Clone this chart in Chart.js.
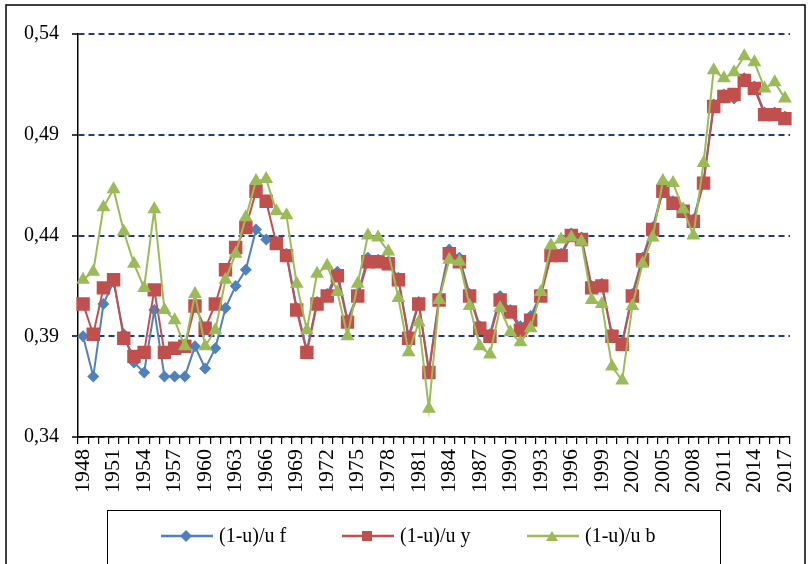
<!DOCTYPE html>
<html>
<head>
<meta charset="utf-8">
<script src="https://cdn.jsdelivr.net/npm/chart.js@4.4.1/dist/chart.umd.min.js"></script>
<style>
  body { margin: 0; background: #fff; }
  #wrap { position: relative; width: 810px; height: 564px; }
  #legend {
    position: absolute; left: 107px; top: 510px; width: 614px; height: 60px;
    border: 1.5px solid #000; box-sizing: border-box;
    font-family: "Liberation Serif", "Times New Roman", serif; font-size: 20px; color: #000;
  }
  .item { position: absolute; top: 13px; display: flex; align-items: center; white-space: nowrap; }
  .item svg { margin-right: 6px; }
</style>
</head>
<body>
<div id="wrap">
  <canvas id="chart" width="810" height="564"></canvas>
  <div id="legend"></div>
</div>
<script>
(function () {
    const years = Array.from({ length: 70 }, (_, i) => String(1948 + i));
    const yTicks = [0.34, 0.39, 0.44, 0.49, 0.54];

    const seriesF = [
        0.390, 0.370, 0.406, 0.417, 0.391, 0.377, 0.372, 0.403, 0.370, 0.370,
        0.370, 0.385, 0.374, 0.384, 0.404, 0.415, 0.423, 0.443, 0.438, 0.437,
        0.431, 0.404, 0.383, 0.407, 0.411, 0.422, 0.398, 0.411, 0.429, 0.428,
        0.427, 0.419, 0.390, 0.407, 0.373, 0.409, 0.433, 0.429, 0.411, 0.395,
        0.391, 0.410, 0.403, 0.395, 0.400, 0.411, 0.431, 0.431, 0.441, 0.439,
        0.415, 0.416, 0.391, 0.387, 0.411, 0.429, 0.444, 0.463, 0.457, 0.453,
        0.448, 0.467, 0.505, 0.510, 0.508, 0.518, 0.514, 0.501, 0.501, 0.499
    ];
    const seriesY = [
        0.406, 0.391, 0.414, 0.418, 0.389, 0.380, 0.382, 0.413, 0.382, 0.384,
        0.385, 0.405, 0.394, 0.406, 0.423, 0.434, 0.444, 0.462, 0.457, 0.436,
        0.430, 0.403, 0.382, 0.406, 0.410, 0.420, 0.397, 0.410, 0.427, 0.427,
        0.426, 0.418, 0.389, 0.406, 0.372, 0.408, 0.431, 0.427, 0.410, 0.394,
        0.390, 0.408, 0.402, 0.393, 0.398, 0.410, 0.430, 0.430, 0.440, 0.438,
        0.414, 0.415, 0.390, 0.386, 0.410, 0.428, 0.443, 0.462, 0.456, 0.452,
        0.447, 0.466, 0.504, 0.509, 0.510, 0.517, 0.513, 0.500, 0.500, 0.498
    ];
    const seriesB = [
        0.418, 0.422, 0.454, 0.463, 0.442, 0.426, 0.414, 0.453, 0.403, 0.398,
        0.385, 0.411, 0.385, 0.393, 0.418, 0.431, 0.449, 0.467, 0.468, 0.452,
        0.450, 0.416, 0.393, 0.421, 0.425, 0.412, 0.390, 0.416, 0.440, 0.439,
        0.432, 0.409, 0.382, 0.397, 0.354, 0.408, 0.428, 0.427, 0.405, 0.385,
        0.381, 0.404, 0.392, 0.387, 0.394, 0.412, 0.435, 0.438, 0.439, 0.437,
        0.408, 0.406, 0.375, 0.368, 0.405, 0.426, 0.439, 0.467, 0.466, 0.453,
        0.440, 0.476, 0.522, 0.518, 0.521, 0.529, 0.526, 0.513, 0.516, 0.508
    ];

    const BLUE = '#4F81BD', RED = '#C0504D', GREEN = '#9BBB59';
    const FONT = "'Liberation Serif', 'Times New Roman', serif";

    // Excel style outer frame
    const frame = {
        id: 'frame',
        afterDraw(chart) {
            const ctx = chart.ctx;
            ctx.save();
            ctx.strokeStyle = '#000';
            ctx.lineWidth = 1.5;
            ctx.strokeRect(6, 5, 799, 600);
            ctx.restore();
        }
    };

    const data = {
        labels: years,
        datasets: [
            {
                label: '(1-u)/u f', data: seriesF, order: 2,
                borderColor: BLUE, backgroundColor: BLUE, borderWidth: 2,
                pointStyle: 'rectRot', pointRadius: 6, pointBorderWidth: 0
            },
            {
                label: '(1-u)/u y', data: seriesY, order: 1,
                borderColor: RED, backgroundColor: RED, borderWidth: 2,
                pointStyle: 'rect', pointRadius: 9.5, pointBorderWidth: 0
            },
            {
                label: '(1-u)/u b', data: seriesB, order: 0,
                borderColor: GREEN, backgroundColor: GREEN, borderWidth: 2,
                pointStyle: 'triangle', pointRadius: 8, pointBorderWidth: 0
            }
        ]
    };

    new Chart(document.getElementById('chart'), {
        type: 'line',
        data: data,
        plugins: [frame],
        options: {
            responsive: false,
            animation: false,
            layout: { padding: { top: 34, right: 20, left: 0, bottom: 0 } },
            plugins: { legend: { display: false }, tooltip: { enabled: false } },
            elements: { line: { tension: 0 } },
            scales: {
                x: {
                    offset: true,
                    grid: { offset: true, drawOnChartArea: false, color: '#000', tickLength: 7, lineWidth: 1.2 },
                    border: { color: '#000', width: 1.5 },
                    ticks: {
                        autoSkip: false, maxRotation: 90, minRotation: 90, padding: 5,
                        color: '#000', font: { family: FONT, size: 22 },
                        callback: function (v, i) { return i % 3 === 0 ? years[i] : ''; }
                    },
                    afterFit: function (scale) {
                        scale.height = 127;
                        scale.paddingLeft = 0;
                        scale.paddingRight = 0;
                    }
                },
                y: {
                    min: 0.34, max: 0.54,
                    afterBuildTicks: function (scale) { scale.ticks = yTicks.map(v => ({ value: v })); },
                    grid: {
                        color: '#1F3F7A', lineWidth: 2,
                        tickColor: '#000', tickBorderDash: [], tickLength: 6, tickWidth: 1.5
                    },
                    border: { color: '#000', width: 1.5, dash: [6, 4] },
                    ticks: {
                        padding: 13, color: '#000', font: { family: FONT, size: 20 },
                        callback: function (v) { return v.toFixed(2).replace('.', ','); }
                    },
                    afterFit: function (scale) { scale.width = 78; }
                }
            }
        }
    });

    // legend box like the Excel one
    const legendItems = [
        { text: '(1-u)/u f', color: BLUE, marker: 'diamond', x: 53 },
        { text: '(1-u)/u y', color: RED, marker: 'square', x: 234 },
        { text: '(1-u)/u b', color: GREEN, marker: 'triangle', x: 419 }
    ];
    const legend = document.getElementById('legend');
    legendItems.forEach(function (it) {
        let mark = '';
        if (it.marker === 'diamond') mark = '<polygon points="25,2 31,8 25,14 19,8" fill="' + it.color + '"/>';
        if (it.marker === 'square') mark = '<rect x="20" y="3" width="10" height="10" fill="' + it.color + '"/>';
        if (it.marker === 'triangle') mark = '<polygon points="25,3 31,13 19,13" fill="' + it.color + '"/>';
        const div = document.createElement('div');
        div.className = 'item';
        div.style.left = it.x + 'px';
        div.innerHTML = '<svg width="52" height="16"><line x1="0" y1="8" x2="52" y2="8" stroke="' + it.color +
            '" stroke-width="2.5"/>' + mark + '</svg><span>' + it.text + '</span>';
        legend.appendChild(div);
    });
})();
</script>
</body>
</html>
